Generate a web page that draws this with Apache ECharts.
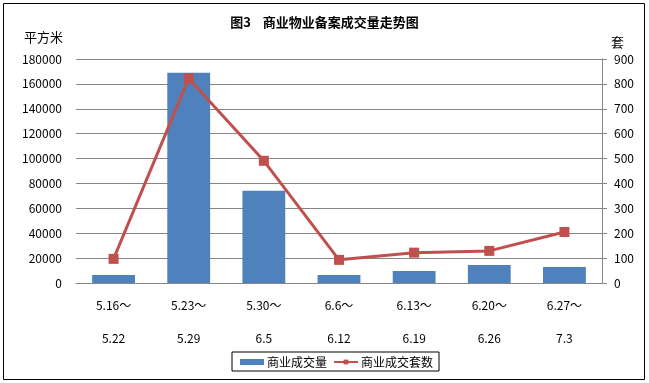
<!DOCTYPE html>
<html><head><meta charset="utf-8">
<script src="https://cdn.jsdelivr.net/npm/echarts@6/dist/echarts.min.js"></script>
<style>html,body{margin:0;padding:0;background:#fff}#c{width:649px;height:383px}</style>
</head><body><div id="c"></div>
<script>
const categories = ['5.16～\n5.22','5.23～\n5.29','5.30～\n6.5','6.6～\n6.12','6.13～\n6.19','6.20～\n6.26','6.27～\n7.3'];
const areaValues = [6400, 169000, 74200, 6400, 9600, 14500, 12900];
const unitValues = [97, 822, 491, 93, 122, 129, 205];
const leftTicks = [0, 20000, 40000, 60000, 80000, 100000, 120000, 140000, 160000, 180000];
const rightTicks = [0, 100, 200, 300, 400, 500, 600, 700, 800, 900];
const titleText = '图3    商业物业备案成交量走势图';
const seriesNames = ['商业成交量', '商业成交套数'];

const font = '"Noto Sans CJK SC", "Noto Sans", sans-serif';
const chart = echarts.init(document.getElementById('c'));
chart.setOption({
  animation: false,
  backgroundColor: '#fff',
  textStyle: {fontFamily: font},
  title: {text: titleText, left: 'center', top: 11,
    textStyle: {fontSize: 13, fontWeight: 'bold', color: '#000', fontFamily: font}},
  graphic: [
    {type: 'rect', shape: {x: 3.5, y: 3.5, width: 641, height: 376}, style: {fill: 'none', stroke: '#000', lineWidth: 1}, silent: true},
    {type: 'text', left: 24, top: 31, style: {text: '平方米', fill: '#000', font: '13px ' + font}},
    {type: 'text', left: 611, top: 36, style: {text: '套', fill: '#000', font: '13px ' + font}}
  ],
  legend: {
    data: [
      {name: seriesNames[0], icon: 'rect', itemStyle: {color: '#4F81BD'}},
      {name: seriesNames[1]}
    ],
    left: 232, top: 352, itemGap: 6, itemWidth: 24, itemHeight: 6,
    padding: [4, 6, 3, 8],
    borderColor: '#000', borderWidth: 1, borderRadius: 0,
    textStyle: {fontSize: 12, color: '#000', fontFamily: font, padding: [0, 0, 0, -2]}
  },
  grid: {left: 76, right: 47, top: 59, bottom: 100},
  xAxis: {
    type: 'category', data: categories,
    axisLine: {lineStyle: {color: '#868686'}},
    axisTick: {show: false},
    axisLabel: {color: '#000', fontSize: 12, lineHeight: 33, margin: 6, interval: 0}
  },
  yAxis: [
    {type: 'value', min: leftTicks[0], max: leftTicks[leftTicks.length - 1], interval: leftTicks[1] - leftTicks[0],
      axisLine: {show: false}, axisTick: {show: false},
      axisLabel: {color: '#000', fontSize: 12, margin: 14, formatter: v => String(v)},
      splitLine: {lineStyle: {color: '#868686', width: 1}}},
    {type: 'value', min: rightTicks[0], max: rightTicks[rightTicks.length - 1], interval: rightTicks[1] - rightTicks[0], position: 'right',
      axisLine: {show: true, lineStyle: {color: '#868686'}},
      axisTick: {show: true, length: 5, lineStyle: {color: '#868686'}},
      axisLabel: {color: '#000', fontSize: 12, margin: 12, formatter: v => String(v)},
      splitLine: {show: false}}
  ],
  series: [
    {name: seriesNames[0], type: 'bar', data: areaValues, barWidth: '57%', yAxisIndex: 0,
      itemStyle: {color: '#4F81BD'}},
    {name: seriesNames[1], type: 'line', data: unitValues, yAxisIndex: 1,
      symbol: 'rect', symbolSize: 10,
      lineStyle: {color: '#C0504D', width: 3}, itemStyle: {color: '#C0504D'}}
  ]
});
</script></body></html>
